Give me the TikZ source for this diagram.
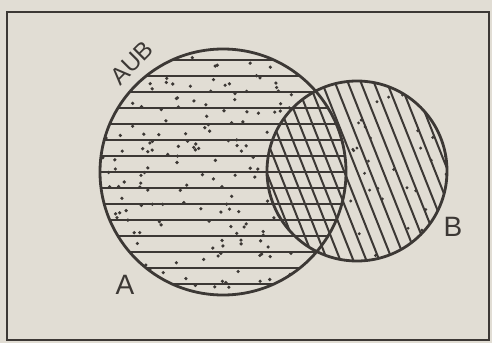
\documentclass[tikz,border=0pt]{standalone}
\usepackage{fontspec}
\setmainfont{Liberation Sans}
\definecolor{paper}{RGB}{225,221,212}
\definecolor{ink}{RGB}{60,56,53}

\begin{document}
\begin{tikzpicture}[x=1pt,y=-1pt]
    \tikzset{
        set/.style={draw=ink, line width=2.8pt, circle, inner sep=0pt, minimum size=#1},
        hatch/.style={draw=ink, line width=2pt},
        speck/.style={fill=ink},
        lbl/.style={text=ink, font=\fontsize{28}{30}\selectfont}
    }
    \fill[paper] (0,0) rectangle (492,343);
    \draw[ink, line width=2pt] (7,12) rectangle (489,340);

    % A: horizontal lines
    \begin{scope}
        \clip (223,172) circle[radius=123];
        \foreach \i in {0,...,14}
            \draw[hatch] (95,{60+16*\i}) -- (350,{60+16*\i});
    \end{scope}
    % B: slanted lines
    \begin{scope}
        \clip (357,171) circle[radius=90];
        \foreach \i in {-11,...,11}
            \draw[hatch] ({357+13*\i-38},75) -- ({357+13*\i+38},267);
    \end{scope}

    % dots, A only
    \pgfmathsetseed{42}
    \begin{scope}[even odd rule]
        \clip (223,172) circle[radius=123];
        \clip (357,171) circle[radius=90] (0,0) rectangle (492,343);
        \foreach \k in {1,...,200}
            \fill[speck] ({100+rnd*200},{50+rnd*245}) circle[radius=1.8];
    \end{scope}
    % dots, B only
    \begin{scope}[even odd rule]
        \clip (357,171) circle[radius=90];
        \clip (223,172) circle[radius=123] (0,0) rectangle (492,343);
        \foreach \k in {1,...,70}
            \fill[speck] ({300+rnd*150},{80+rnd*185}) circle[radius=1.6];
    \end{scope}

    \node[set=246pt] (A) at (223,172) {};
    \node[set=180pt] (B) at (357,171) {};

    \node[lbl, rotate=45, font=\fontsize{24}{26}\selectfont] (union) at (132,63) {AUB};
    \node[lbl] (labA) at (125,285) {A};
    \node[lbl] (labB) at (453,227) {B};
\end{tikzpicture}
\end{document}
